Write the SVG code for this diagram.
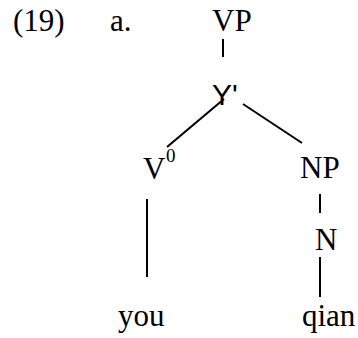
<svg xmlns="http://www.w3.org/2000/svg" width="358" height="338" viewBox="0 0 358 338">
<style>
text{font-family:"Liberation Serif","Times New Roman",serif;font-size:31px;fill:#000}
.sans{font-family:"Liberation Sans",Arial,sans-serif;font-size:30px}
.sup{font-size:19px}
line{stroke:#000;stroke-width:2}
</style>
<rect width="358" height="338" fill="#fff"/>
<g id="label"><text x="13" y="31">(19)</text><text x="110" y="31">a.</text></g>
<g id="connectors">
<line x1="223" y1="39" x2="223" y2="57"/>
<line x1="224" y1="99" x2="167" y2="147"/>
<line x1="243" y1="104" x2="302" y2="143"/>
<line x1="147" y1="199" x2="147" y2="277"/>
<line x1="320" y1="194" x2="320" y2="213"/>
<line x1="320" y1="257" x2="320" y2="297"/>
</g>
<g id="VP"><text x="212" y="31">VP</text></g>
<g id="Ybar"><text class="sans" x="212" y="105">Y'</text></g>
<g id="V0"><text x="143" y="179">V</text><text class="sup" x="166" y="162">0</text></g>
<g id="NP"><text x="300" y="178">NP</text></g>
<g id="N"><text x="315" y="250">N</text></g>
<g id="you"><text x="118" y="326">you</text></g>
<g id="qian"><text x="302" y="326">qian</text></g>
</svg>
